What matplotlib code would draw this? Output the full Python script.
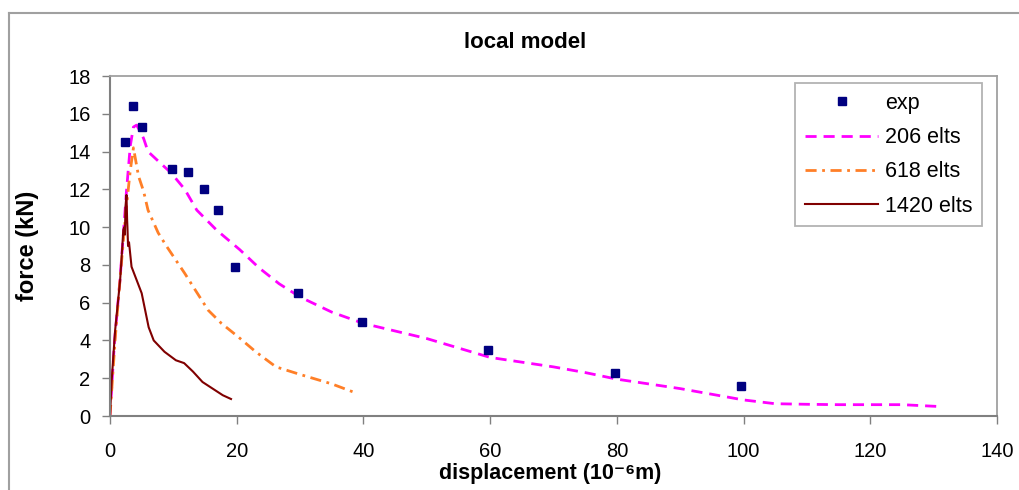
import matplotlib
matplotlib.use("Agg")
import matplotlib.pyplot as plt
from matplotlib.lines import Line2D

plt.rcParams['font.family'] = ['Liberation Sans', 'DejaVu Sans']

# experimental points
exp_x = [2.3, 3.7, 5.0, 9.8, 12.3, 14.8, 17.0, 19.7, 29.7, 39.8, 59.7, 79.7, 99.6]
exp_y = [14.5, 16.4, 15.3, 13.1, 12.9, 12.0, 10.9, 7.9, 6.5, 5.0, 3.5, 2.3, 1.6]

# 206 elements
e206_x = [0, 0.7, 1.6, 2.6, 3.2, 3.7, 4.2, 4.7, 5.3, 6.0, 7.6, 9.7, 11.8, 13.7, 16.8,
          20.5, 23.5, 26.7, 30, 35, 40, 45, 50, 55, 60, 65, 70, 75, 80, 85, 90, 95,
          100, 105, 110, 115, 120, 125, 131]
e206_y = [0, 3.9, 7.3, 11.9, 14.3, 15.3, 15.4, 15.1, 14.7, 14.0, 13.5, 12.85, 12.0,
          10.9, 9.85, 8.8, 7.85, 7.0, 6.3, 5.5, 4.9, 4.5, 4.1, 3.6, 3.1, 2.85, 2.6,
          2.3, 1.95, 1.7, 1.45, 1.15, 0.85, 0.65, 0.62, 0.6, 0.6, 0.6, 0.5]

# 618 elements
e618_x = [0, 0.8, 1.6, 2.5, 3.2, 3.7, 4.5, 5.3, 6.0, 7.6, 8.9, 10.3, 11.8, 13.4, 15.5,
          17.6, 20.2, 23.0, 26.2, 30, 35, 38.4]
e618_y = [0, 4.0, 7.3, 10.8, 13.0, 14.2, 12.7, 11.9, 10.9, 9.7, 9.0, 8.3, 7.55, 6.7,
          5.6, 4.9, 4.2, 3.4, 2.6, 2.2, 1.7, 1.27]

# 1420 elements
e1420_x = [0, 0.27, 0.8, 1.6, 1.95, 2.1, 2.25, 2.35, 2.45, 2.6, 2.7, 2.75, 2.85, 3.0,
           3.4, 4.2, 5.0, 5.55, 6.1, 6.9, 8.6, 10.4, 11.7, 13.1, 14.6, 16.2, 17.8, 19.1]
e1420_y = [0, 1.9, 4.5, 7.2, 9.0, 9.85, 10.0, 9.6, 11.1, 11.7, 10.4, 10.0, 9.0, 9.2,
           7.9, 7.2, 6.5, 5.6, 4.7, 4.0, 3.4, 2.95, 2.8, 2.35, 1.8, 1.45, 1.1, 0.9]

xticks = [0, 20, 40, 60, 80, 100, 120, 140]
yticks = [0, 2, 4, 6, 8, 10, 12, 14, 16, 18]

W, H = 1019, 490
L, R, T, B = 110, 997, 76, 416
fig = plt.figure(figsize=(W / 100, H / 100), dpi=100)
ax = fig.add_axes([L / W, 1 - B / H, (R - L) / W, (B - T) / H])

# outer chart frame (left and top)
fig.add_artist(Line2D([9 / W, 9 / W], [0, 1 - 13 / H], transform=fig.transFigure,
                      color='#a0a0a0', lw=1.5))
fig.add_artist(Line2D([9 / W, 1], [1 - 13 / H, 1 - 13 / H], transform=fig.transFigure,
                      color='#a0a0a0', lw=1.5))

ax.plot(e206_x, e206_y, color='#ff00ff', lw=2, ls=(0, (4, 2.5)), label='206 elts')
ax.plot(e618_x, e618_y, color='#ff7f27', lw=2, ls=(0, (4, 2, 1, 2)), label='618 elts')
ax.plot(e1420_x, e1420_y, color='#800000', lw=1.5, label='1420 elts')
ax.plot(exp_x, exp_y, ls='none', marker='s', ms=5.3, color='#000080', label='exp', zorder=5)

ax.set_xlim(0, 140)
ax.set_ylim(0, 18)
ax.set_xticks(xticks)
ax.set_yticks(yticks)
ax.tick_params(direction='out', length=6, width=1, color='#808080', labelsize=14.5)
ax.tick_params(axis='y', pad=8)
ax.tick_params(axis='x', pad=13)
for s in ['left', 'bottom']:
    ax.spines[s].set_color('#808080')
    ax.spines[s].set_linewidth(1.5)
for s in ['top', 'right']:
    ax.spines[s].set_color('#a0a0a0')
    ax.spines[s].set_linewidth(1.3)

ax.set_xlabel('displacement (10\u207b\u2076m)', fontsize=15.5, fontweight='bold')
ax.xaxis.set_label_coords((550 - L) / (R - L), (B - 473) / (B - T))
ax.xaxis.label.set_va('center')
ax.set_ylabel('force (kN)', fontsize=17, fontweight='bold')
ax.yaxis.set_label_coords((28 - L) / (R - L), 0.5)
ax.yaxis.label.set_va('center')
fig.text(525 / W, 1 - 42 / H, 'local model', ha='center', va='center', fontsize=16,
         fontweight='bold')

handles, labels = ax.get_legend_handles_labels()
order = [3, 0, 1, 2]
leg = ax.legend([handles[i] for i in order], [labels[i] for i in order],
                loc='upper right',
                bbox_to_anchor=((982 - L) / (R - L), (B - 83) / (B - T)),
                fontsize=15.5, frameon=True, fancybox=False, edgecolor='#a0a0a0',
                handlelength=3.4, borderpad=0.45, labelspacing=0.62, handletextpad=0.3,
                borderaxespad=0)
leg.get_frame().set_linewidth(1.3)

fig.savefig('out.png', dpi=100)
